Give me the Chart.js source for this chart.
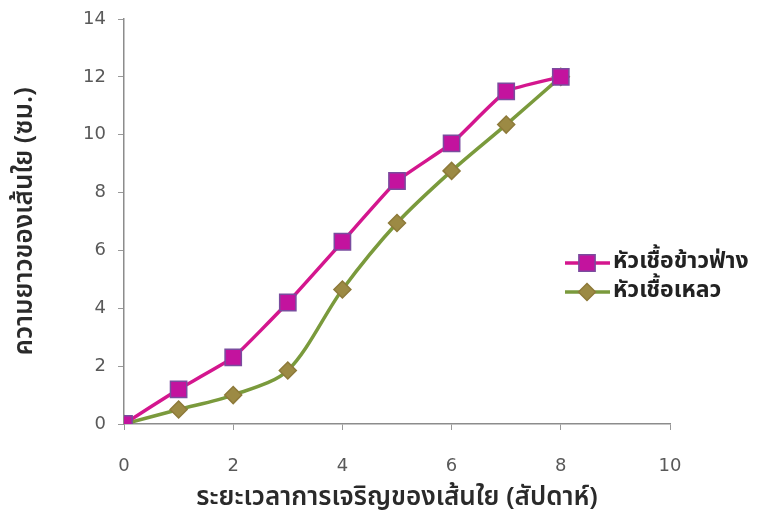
<!DOCTYPE html>
<html>
<head>
<meta charset="utf-8">
<script src="https://cdn.jsdelivr.net/npm/chart.js@4/dist/chart.umd.min.js"></script>
<style>
  html, body { margin: 0; padding: 0; background: #fff; }
  #wrap { width: 777px; height: 516px; }
</style>
</head>
<body>
<div id="wrap"><canvas id="growthChart"></canvas></div>
<script>
// weeks of mycelium growth
const weeks = [0, 1, 2, 3, 4, 5, 6, 7, 8];
const sorghumLen = [0, 1.2, 2.3, 4.2, 6.3, 8.4, 9.7, 11.5, 12];
const cornLen = [0, 0.5, 1.0, 1.85, 4.65, 6.95, 8.75, 10.35, 12];
const seriesNames = ['หัวเชื้อข้าวฟ่าง', 'หัวเชื้อเหลว'];
const xTitle = 'ระยะเวลาการเจริญของเส้นใย (สัปดาห์)';
const yTitle = 'ความยาวของเส้นใย (ซม.)';

const toPoints = vals => weeks.map((w, i) => ({ x: w, y: vals[i] }));

const tickFont = { family: 'Tahoma, "DejaVu Sans", sans-serif', size: 18 };
const thaiFont = '"Noto Sans Thai", Tahoma, "DejaVu Sans", sans-serif';

// legend drawn by hand, sitting inside the right part of the plot
const sideLegend = {
    id: 'sideLegend',
    afterDraw(chart) {
        const ctx = chart.ctx;
        const rows = [
            { y: 263, ds: chart.data.datasets[0] },
            { y: 292, ds: chart.data.datasets[1] }
        ];
        rows.forEach(r => {
            const ds = r.ds;
            ctx.save();
            ctx.strokeStyle = ds.borderColor;
            ctx.lineWidth = ds.borderWidth;
            ctx.beginPath();
            ctx.moveTo(565, r.y);
            ctx.lineTo(610, r.y);
            ctx.stroke();
            ctx.fillStyle = ds.pointBackgroundColor;
            ctx.strokeStyle = ds.pointBorderColor;
            ctx.lineWidth = ds.pointBorderWidth;
            ctx.beginPath();
            drawMarker(ctx, ds.pointStyle, ds.pointRadius, 587, r.y);
            ctx.fill();
            ctx.stroke();
            ctx.fillStyle = '#222';
            ctx.font = 'bold 23px ' + thaiFont;
            ctx.textBaseline = 'middle';
            ctx.fillText(ds.label, 613, r.y);
            ctx.restore();
        });
    }
};

function drawMarker(ctx, style, r, x, y) {
    if (style === 'rect') {
        const s = Math.SQRT1_2 * r;
        ctx.rect(x - s, y - s, 2 * s, 2 * s);
    } else {
        ctx.moveTo(x, y - r);
        ctx.lineTo(x + r, y);
        ctx.lineTo(x, y + r);
        ctx.lineTo(x - r, y);
        ctx.closePath();
    }
}

const ctx = document.getElementById('growthChart').getContext('2d');
new Chart(ctx, {
    type: 'line',
    data: {
        datasets: [
            {
                label: seriesNames[0],
                data: toPoints(sorghumLen),
                borderColor: '#D4168E',
                borderWidth: 3.5,
                tension: 0.12,
                pointStyle: 'rect',
                pointRadius: 11.5,
                pointBackgroundColor: '#C3139E',
                pointBorderColor: '#7A4C9E',
                pointBorderWidth: 1.5
            },
            {
                label: seriesNames[1],
                data: toPoints(cornLen),
                borderColor: '#7A9A3C',
                borderWidth: 3.5,
                tension: 0.3,
                pointStyle: 'rectRot',
                pointRadius: 8.5,
                pointBackgroundColor: '#9C8A44',
                pointBorderColor: '#8E7A3A',
                pointBorderWidth: 1.5
            }
        ]
    },
    options: {
        responsive: true,
        maintainAspectRatio: false,
        animation: false,
        layout: { padding: { left: 0, right: 107, top: 19, bottom: 0 } },
        plugins: {
            legend: { display: false },
            tooltip: { enabled: false }
        },
        scales: {
            x: {
                type: 'linear',
                min: 0,
                max: 10,
                ticks: { stepSize: 2, color: '#595959', font: tickFont, padding: 26 },
                grid: { drawOnChartArea: false, drawTicks: true, tickLength: 6, color: '#999' },
                border: { color: '#8c8c8c', width: 1.5 },
                title: {
                    display: true, text: xTitle, color: '#2a2a2a',
                    font: { family: thaiFont, size: 26, weight: '600' },
                    padding: { top: 0, bottom: 1 }
                },
                afterFit(scale) { scale.height = 92; }
            },
            y: {
                min: 0,
                max: 14,
                ticks: { stepSize: 2, color: '#595959', font: tickFont, padding: 12 },
                grid: { drawOnChartArea: false, drawTicks: true, tickLength: 6, color: '#999' },
                border: { color: '#8c8c8c', width: 1.5 },
                title: {
                    display: true, text: yTitle, color: '#2a2a2a',
                    font: { family: thaiFont, size: 26, weight: '600' },
                    padding: { top: 11, bottom: 0 }
                },
                afterFit(scale) {
                    scale.width = 124;
                    scale.paddingTop = 0;
                    scale.paddingBottom = 0;
                }
            }
        }
    },
    plugins: [sideLegend]
});
</script>
</body>
</html>
